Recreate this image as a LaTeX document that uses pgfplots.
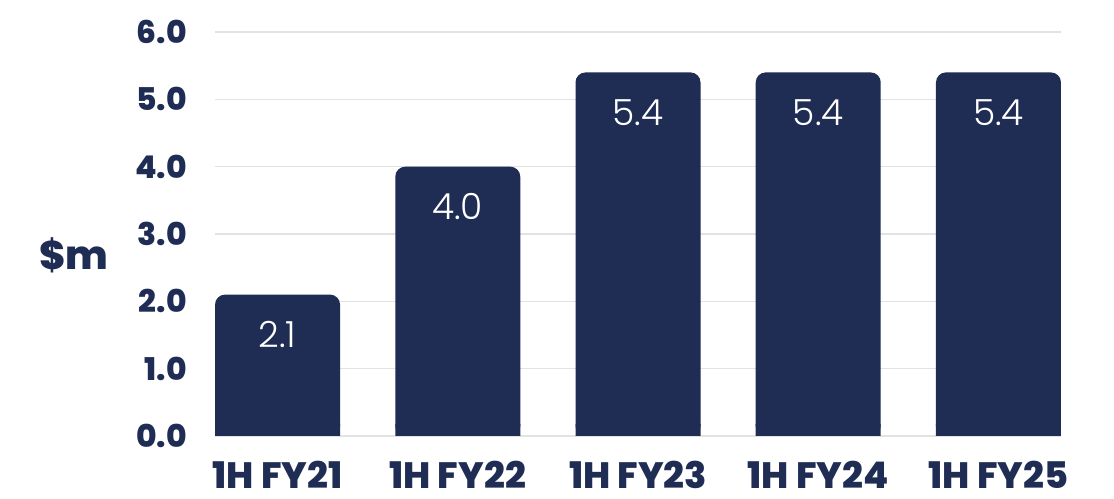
\documentclass[border=0pt]{standalone}
\usepackage{fontspec}
\usepackage{pgfplots}
\pgfplotsset{compat=1.18}
\IfFontExistsTF{Poppins ExtraBold}{\setmainfont{Poppins}[BoldFont={Poppins ExtraBold}]}{\setmainfont{Poppins}}
\IfFontExistsTF{Poppins Light}{\newfontfamily\lightfont{Poppins Light}}{\newfontfamily\lightfont{Poppins}}
\definecolor{navy}{HTML}{1F2C54}
\definecolor{gridgray}{HTML}{E2E2E2}
\begin{document}
\begin{tikzpicture}
\begin{axis}[
  scale only axis,
  width=634.5pt, height=303pt,
  xmin=-0.347, xmax=4.347,
  ymin=0, ymax=6,
  axis line style={draw=none},
  tick style={draw=none},
  ymajorgrids,
  grid style={gridgray, line width=1.2pt},
  xtick={0,1,2,3,4},
  xticklabels={1H FY21,1H FY22,1H FY23,1H FY24,1H FY25},
  ytick={0,1,2,3,4,5,6},
  yticklabels={0.0,1.0,2.0,3.0,4.0,5.0,6.0},
  xticklabel style={font=\fontsize{27.5}{27.5}\selectfont\bfseries, text=navy, inner sep=0pt, anchor=base, yshift=-35pt},
  yticklabel style={font=\fontsize{23.5}{23.5}\selectfont\bfseries, text=navy, inner sep=0pt, anchor=east, xshift=-21pt},
  ybar, bar width=93.75pt, bar shift=0pt,
]
\addplot[fill=navy, draw=none, rounded corners=7.5pt,
  point meta=explicit symbolic,
  nodes near coords,
  every node near coord/.append style={font=\lightfont\fontsize{27}{27}\selectfont, text=white, anchor=center, yshift=-30pt}]
  coordinates {(0,2.1) [2.1] (1,4.0) [4.0] (2,5.4) [5.4] (3,5.4) [5.4] (4,5.4) [5.4]};
% square-cornered base so that only the top corners of the bars are rounded
\addplot[fill=navy, draw=none]
  coordinates {(0,0.18) (1,0.18) (2,0.18) (3,0.18) (4,0.18)};
\coordinate (A) at (rel axis cs:0,0);
\coordinate (B) at (rel axis cs:1,1);
\end{axis}
\node[font=\fontsize{30}{30}\selectfont\bfseries, text=navy] at ([shift={(-105.75pt,135.75pt)}]A) {\$m};
\pgfresetboundingbox
\path[use as bounding box] ([shift={(-161.25pt,-47.25pt)}]A) rectangle ([shift={(39.75pt,24pt)}]B);
\end{tikzpicture}
\end{document}
